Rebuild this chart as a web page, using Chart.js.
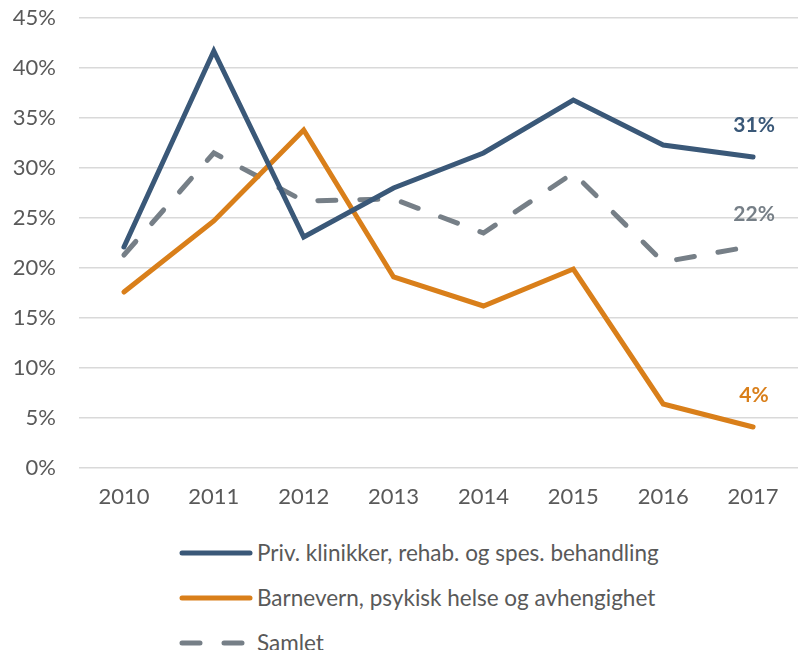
<!DOCTYPE html>
<html>
<head>
<meta charset="utf-8">
<script src="https://cdn.jsdelivr.net/npm/chart.js@4.4.0/dist/chart.umd.min.js"></script>
<style>
  html, body { margin: 0; padding: 0; background: #fff; }
  #wrap { position: relative; width: 798px; height: 520px; }
  #legend { position: absolute; left: 179px; top: 530px; font-family: Lato, sans-serif; font-size: 22.5px; color: #595959; }
  .item { height: 45px; display: flex; align-items: center; }
  .item svg { margin-right: 2px; }
</style>
</head>
<body>
<div id="wrap"><canvas id="myChart" width="798" height="520"></canvas></div>
<div id="legend"></div>
<script>
// ===== Data =====
const years = ["2010", "2011", "2012", "2013", "2014", "2015", "2016", "2017"];
const privKlinikker = [22.1, 41.7, 23.1, 28.0, 31.5, 36.8, 32.3, 31.1];
const barnevern = [17.6, 24.7, 33.8, 19.1, 16.2, 19.9, 6.4, 4.1];
const samlet = [21.3, 31.5, 26.7, 26.9, 23.5, 29.5, 20.6, 22.2];
const yTicks = [0, 5, 10, 15, 20, 25, 30, 35, 40, 45];

const BLUE = "#3a5878", ORANGE = "#d97f1a", GRAY = "#767f87", TEXT = "#595959";

// ===== End labels plugin (value above last point) =====
const endLabels = {
  id: "endLabels",
  afterDatasetsDraw(chart) {
    const ctx = chart.ctx;
    chart.data.datasets.forEach((ds, i) => {
      const meta = chart.getDatasetMeta(i);
      const pt = meta.data[meta.data.length - 1];
      const val = ds.data[ds.data.length - 1];
      ctx.save();
      ctx.font = "bold 21px Lato, sans-serif";
      ctx.fillStyle = ds.borderColor;
      ctx.textAlign = "center";
      ctx.textBaseline = "middle";
      ctx.fillText(Math.round(val) + "%", pt.x + 1, pt.y - 32);
      ctx.restore();
    });
  }
};

let ctx = document.getElementById("myChart").getContext("2d");

let chart = new Chart(ctx, {
  type: "line",
  data: {
    labels: years,
    datasets: [{
      label: "Priv. klinikker, rehab. og spes. behandling",
      data: privKlinikker,
      borderColor: BLUE
    }, {
      label: "Barnevern, psykisk helse og avhengighet",
      data: barnevern,
      borderColor: ORANGE
    }, {
      label: "Samlet",
      data: samlet,
      borderColor: GRAY,
      borderDash: [18, 24]
    }]
  },
  options: {
    responsive: false,
    animation: false,
    layout: { padding: { top: 18, right: 0, left: 0, bottom: 0 } },
    elements: {
      line: { borderWidth: 5, tension: 0, borderCapStyle: "round", borderJoinStyle: "miter", fill: false },
      point: { radius: 0, hoverRadius: 0 }
    },
    plugins: {
      legend: { display: false },
      tooltip: { enabled: false }
    },
    scales: {
      x: {
        offset: true,
        grid: { display: false, drawTicks: false },
        border: { display: false },
        ticks: { color: TEXT, font: { family: "Lato", size: 22 }, padding: 16, maxRotation: 0 },
        afterFit(scale) { scale.height = 52; scale.paddingLeft = 0; scale.paddingRight = 0; }
      },
      y: {
        min: 0, max: 45,
        afterBuildTicks(scale) { scale.ticks = yTicks.map(v => ({ value: v })); },
        grid: { color: "#d9d9d9", lineWidth: 1.5, drawTicks: false },
        border: { display: false },
        ticks: { color: TEXT, font: { family: "Lato", size: 22 }, padding: 23, callback: v => v + "%" },
        afterFit(scale) { scale.width = 79; scale.paddingTop = 0; scale.paddingBottom = 0; }
      }
    }
  },
  plugins: [endLabels]
});

// ===== HTML legend, stacked =====
const legend = document.getElementById("legend");
chart.data.datasets.forEach(ds => {
  const dash = ds.borderDash ? 'stroke-dasharray="18 24"' : "";
  const item = document.createElement("div");
  item.className = "item";
  item.innerHTML = '<svg width="76" height="10"><line x1="3" y1="5" x2="71" y2="5" stroke="' + ds.borderColor +
    '" stroke-width="5" stroke-linecap="round" ' + dash + '/></svg><span>' + ds.label + '</span>';
  legend.appendChild(item);
});
</script>
</body>
</html>
